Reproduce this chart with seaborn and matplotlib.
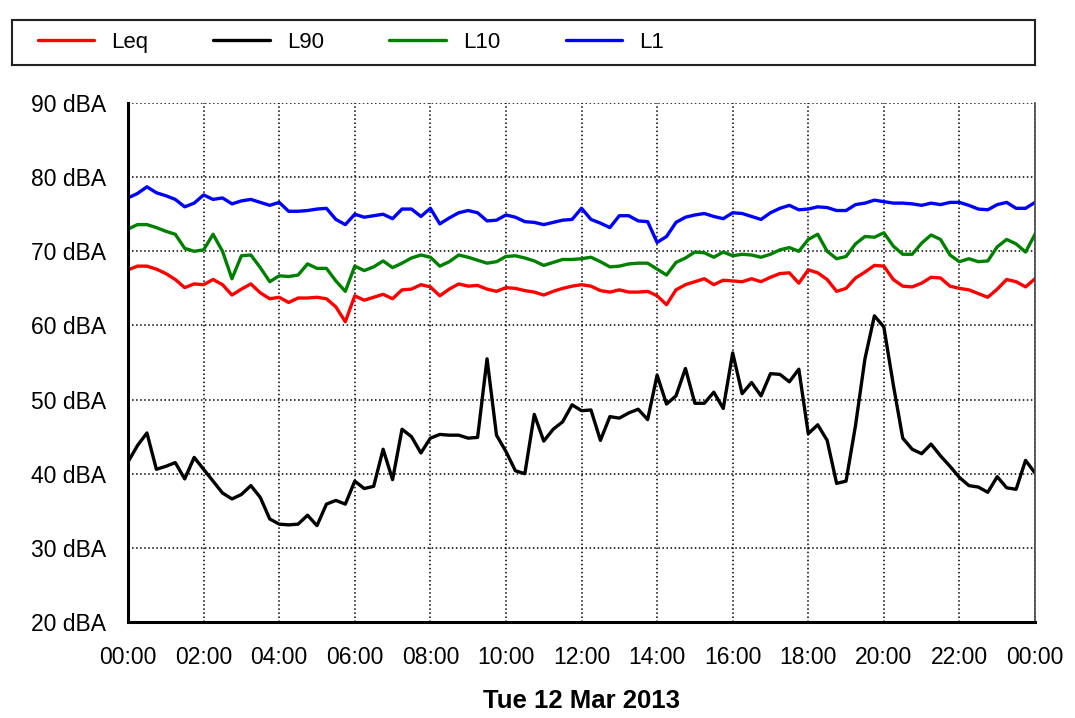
import pandas as pd  # For the time axis and long-form table
import seaborn as sns  # For the line plot
import matplotlib.pyplot as plt  # For figure and axes
import matplotlib.dates as mdates  # For HH:MM tick labels
from matplotlib.lines import Line2D  # For the legend handles

# Noise levels in dBA, one reading every 15 minutes, Tue 12 Mar 2013 00:00 -> 24:00
leq = [67.5, 68.0, 68.0, 67.6, 67.0, 66.2, 65.1, 65.6, 65.5, 66.2, 65.5, 64.1,
       64.9, 65.6, 64.4, 63.6, 63.8, 63.1, 63.7, 63.7, 63.8, 63.6, 62.5, 60.5,
       64.0, 63.4, 63.8, 64.2, 63.6, 64.8, 64.9, 65.5, 65.2, 64.0, 64.9, 65.6,
       65.3, 65.4, 64.9, 64.6, 65.1, 65.0, 64.7, 64.5, 64.1, 64.6, 65.0, 65.3,
       65.5, 65.3, 64.7, 64.5, 64.8, 64.5, 64.5, 64.6, 64.0, 62.8, 64.8, 65.5,
       65.9, 66.3, 65.5, 66.1, 66.0, 65.9, 66.3, 65.9, 66.5, 67.0, 67.1, 65.7,
       67.5, 67.1, 66.2, 64.6, 65.0, 66.4, 67.2, 68.1, 68.0, 66.2, 65.3, 65.2,
       65.7, 66.5, 66.4, 65.3, 65.0, 64.8, 64.3, 63.8, 64.9, 66.2, 65.9, 65.2,
       66.3]
l90 = [41.6, 43.8, 45.5, 40.6, 41.0, 41.5, 39.3, 42.2, 40.6, 39.0, 37.4, 36.6,
       37.2, 38.4, 36.8, 33.9, 33.2, 33.1, 33.2, 34.4, 33.0, 35.9, 36.4, 35.9,
       39.0, 38.0, 38.3, 43.3, 39.2, 46.0, 45.0, 42.8, 44.8, 45.3, 45.2, 45.2,
       44.8, 44.9, 55.5, 45.2, 43.0, 40.4, 40.0, 48.0, 44.4, 46.0, 47.0, 49.3,
       48.5, 48.6, 44.5, 47.7, 47.5, 48.2, 48.7, 47.3, 53.3, 49.4, 50.5, 54.2,
       49.5, 49.5, 51.0, 48.8, 56.3, 50.8, 52.3, 50.5, 53.5, 53.4, 52.4, 54.1,
       45.4, 46.6, 44.5, 38.7, 39.0, 46.5, 55.5, 61.3, 59.8, 52.0, 44.8, 43.3,
       42.7, 44.0, 42.4, 41.0, 39.5, 38.4, 38.2, 37.5, 39.6, 38.1, 37.9, 41.8,
       40.1]
l10 = [73.0, 73.6, 73.6, 73.2, 72.7, 72.3, 70.4, 70.0, 70.2, 72.3, 70.0, 66.3,
       69.4, 69.5, 67.8, 65.9, 66.7, 66.6, 66.8, 68.3, 67.7, 67.7, 66.0, 64.6,
       68.0, 67.4, 67.9, 68.7, 67.8, 68.4, 69.1, 69.5, 69.2, 68.0, 68.6, 69.5,
       69.2, 68.8, 68.4, 68.6, 69.3, 69.4, 69.1, 68.7, 68.1, 68.5, 68.9, 68.9,
       69.0, 69.2, 68.6, 67.9, 68.0, 68.3, 68.4, 68.4, 67.6, 66.8, 68.5, 69.1,
       69.9, 69.8, 69.2, 69.9, 69.4, 69.6, 69.5, 69.2, 69.6, 70.2, 70.5, 70.0,
       71.6, 72.3, 70.0, 69.0, 69.3, 71.0, 72.0, 71.9, 72.5, 70.7, 69.6, 69.6,
       71.1, 72.2, 71.6, 69.5, 68.6, 69.0, 68.6, 68.7, 70.6, 71.6, 71.0, 69.9,
       72.3]
l1 = [77.2, 77.8, 78.7, 77.9, 77.5, 77.0, 76.0, 76.5, 77.6, 77.0, 77.2, 76.4,
      76.8, 77.0, 76.6, 76.2, 76.6, 75.4, 75.4, 75.5, 75.7, 75.8, 74.3, 73.6,
      75.0, 74.6, 74.8, 75.0, 74.4, 75.7, 75.7, 74.7, 75.8, 73.7, 74.5, 75.2,
      75.5, 75.2, 74.1, 74.2, 74.9, 74.6, 74.0, 73.9, 73.6, 73.9, 74.2, 74.3,
      75.8, 74.3, 73.8, 73.2, 74.8, 74.8, 74.1, 74.0, 71.2, 72.0, 73.9, 74.6,
      74.9, 75.1, 74.7, 74.4, 75.2, 75.1, 74.7, 74.3, 75.2, 75.8, 76.2, 75.6,
      75.7, 76.0, 75.9, 75.5, 75.5, 76.3, 76.5, 76.9, 76.7, 76.5, 76.5, 76.4,
      76.2, 76.5, 76.3, 76.6, 76.6, 76.2, 75.7, 75.6, 76.3, 76.6, 75.8, 75.8,
      76.6]

series_names = ["Leq", "L90", "L10", "L1"]
series_colors = ["#ff0000", "#000000", "#008000", "#0000ff"]
y_ticks = [20, 30, 40, 50, 60, 70, 80, 90]

# Build a long-form table for seaborn
times = pd.date_range("2013-03-12 00:00", periods=len(leq), freq="15min")
df = pd.DataFrame({"time": times, "Leq": leq, "L90": l90, "L10": l10, "L1": l1})
long_df = df.melt(id_vars="time", var_name="series", value_name="level")

sns.set_style("white")
plt.rcParams["font.family"] = ["Liberation Sans", "DejaVu Sans"]
plt.rcParams["text.color"] = "black"

fig = plt.figure(figsize=(10.75, 7.18), dpi=100)
ax = fig.add_axes([0.1191, 0.1337, 0.8437, 0.7228])

sns.lineplot(data=long_df, x="time", y="level", hue="series",
             hue_order=series_names, palette=dict(zip(series_names, series_colors)),
             linewidth=2.4, legend=False, ax=ax)

# Axes limits, ticks and grid
ax.set_xlim(times[0], times[-1])
ax.set_ylim(20, 90)
ax.set_yticks(y_ticks)
ax.set_yticklabels([f"{v} dBA" for v in y_ticks])
ax.xaxis.set_major_locator(mdates.HourLocator(interval=2))
ax.xaxis.set_major_formatter(mdates.DateFormatter("%H:%M"))
ax.grid(True, color="black", linestyle=":", linewidth=1.1)
ax.set_axisbelow(True)
ax.tick_params(axis="both", length=0, labelsize=16.5, colors="black")
ax.tick_params(axis="y", pad=16)
ax.tick_params(axis="x", pad=17)
ax.set_ylabel("")
ax.set_xlabel("Tue 12 Mar 2013", fontsize=18.5, fontweight="bold",
              color="black", labelpad=15)

# Frame: heavy left/bottom, thin right, none on top
ax.spines["top"].set_visible(False)
for side in ["left", "bottom"]:
    ax.spines[side].set_linewidth(2.2)
    ax.spines[side].set_color("black")
ax.spines["right"].set_linewidth(1.2)
ax.spines["right"].set_color("#444444")

# Legend in its own framed box across the top
lax = fig.add_axes([0.0112, 0.9095, 0.9516, 0.0627])
lax.set_xticks([])
lax.set_yticks([])
for s in lax.spines.values():
    s.set_linewidth(1.5)
    s.set_color("#222222")
handles = [Line2D([], [], color=c, linewidth=2.4) for c in series_colors]
leg = lax.legend(handles, series_names, loc="center left", bbox_to_anchor=(0.0, 0.5),
                 ncol=4, frameon=False, fontsize=16, handlelength=2.55,
                 handletextpad=0.75, columnspacing=2.95, borderaxespad=0.75)
for t in leg.get_texts():
    t.set_color("black")

plt.savefig("out.png", dpi=100)
